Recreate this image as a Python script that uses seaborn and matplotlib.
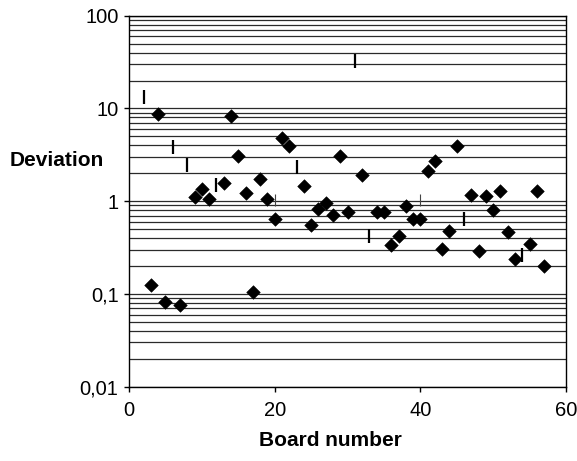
import matplotlib
matplotlib.use("Agg")
import matplotlib.pyplot as plt
import seaborn as sns

# ----------------------------
# Data
# ----------------------------
board_diamond = [3, 4, 5, 7, 9, 10, 11, 13, 14, 15, 16, 17, 18, 19, 20, 21, 22,
                 24, 25, 26, 27, 28, 29, 30, 32, 34, 35, 36, 37, 38, 39, 40, 41,
                 42, 43, 44, 45, 47, 48, 49, 50, 51, 52, 53, 55, 56, 57]
dev_diamond = [0.126, 8.78, 0.081, 0.0766, 1.11, 1.36, 1.06, 1.59, 8.35, 3.04,
               1.24, 0.104, 1.75, 1.06, 0.643, 4.80, 3.90, 1.44, 0.558, 0.83,
               0.956, 0.715, 3.04, 0.757, 1.93, 0.757, 0.757, 0.34, 0.417,
               0.894, 0.643, 0.643, 2.10, 2.73, 0.308, 0.481, 3.90, 1.17,
               0.293, 1.13, 0.81, 1.28, 0.461, 0.240, 0.346, 1.28, 0.198]

board_bar = [2, 6, 8, 12, 23, 31, 33, 46, 54]
dev_bar = [13.3, 3.84, 2.47, 1.51, 2.34, 32.2, 0.417, 0.648, 0.265]

board_thin = [20, 40]
dev_thin = [1.02, 1.02]

y_ticks = [0.01, 0.1, 1, 10, 100]
y_tick_labels = ["0,01", "0,1", "1", "10", "100"]
y_minor = [m * 10.0 ** e for e in range(-2, 2) for m in range(2, 10)]
x_ticks = [0, 20, 40, 60]

# ----------------------------
# Figure
# ----------------------------
sns.set_style("ticks")
plt.rcParams["font.family"] = ["Liberation Sans", "DejaVu Sans"]
plt.rcParams["text.color"] = "black"
plt.rcParams["xtick.color"] = "black"
plt.rcParams["ytick.color"] = "black"

fig = plt.figure(figsize=(5.77, 4.61), dpi=100)
ax = fig.add_axes([0.2236, 0.1612, 0.7574, 0.8048])

ax.set_yscale("log")
ax.set_xlim(0, 60)
ax.set_ylim(0.01, 100)

ax.set_yticks(y_ticks)
ax.set_yticklabels(y_tick_labels)
ax.set_yticks(y_minor, minor=True)
ax.set_xticks(x_ticks)

ax.yaxis.grid(True, which="both", color="#2a2a2a", linewidth=0.9)
ax.xaxis.grid(False)
ax.set_axisbelow(True)

sns.scatterplot(x=board_diamond, y=dev_diamond, marker="D", s=48,
                color="black", edgecolor="black", linewidth=0.4, ax=ax,
                zorder=3)
sns.scatterplot(x=board_bar, y=dev_bar, marker="|", s=95, color="black",
                linewidth=1.6, ax=ax, zorder=3)
sns.scatterplot(x=board_thin, y=dev_thin, marker="|", s=80, color="#444444",
                linewidth=0.8, ax=ax, zorder=3)

for side in ["left", "right", "top", "bottom"]:
    ax.spines[side].set_color("black")
    ax.spines[side].set_linewidth(1.0)

ax.tick_params(axis="both", which="major", labelsize=14.5, length=3.5,
               width=1.0, direction="out", color="black", labelcolor="black")
ax.tick_params(axis="y", which="major", pad=4)
ax.tick_params(axis="x", which="major", pad=7)
ax.tick_params(axis="y", which="minor", length=0)

ax.set_xlabel("")
ax.set_ylabel("")
fig.text(10 / 577, 1 - 160 / 461, "Deviation", fontsize=15,
         fontweight="bold", ha="left", va="center", color="black")
fig.text(330 / 577, 1 - 440 / 461, "Board number", fontsize=15,
         fontweight="bold", ha="center", va="center", color="black")

fig.savefig("out.png", dpi=100)
